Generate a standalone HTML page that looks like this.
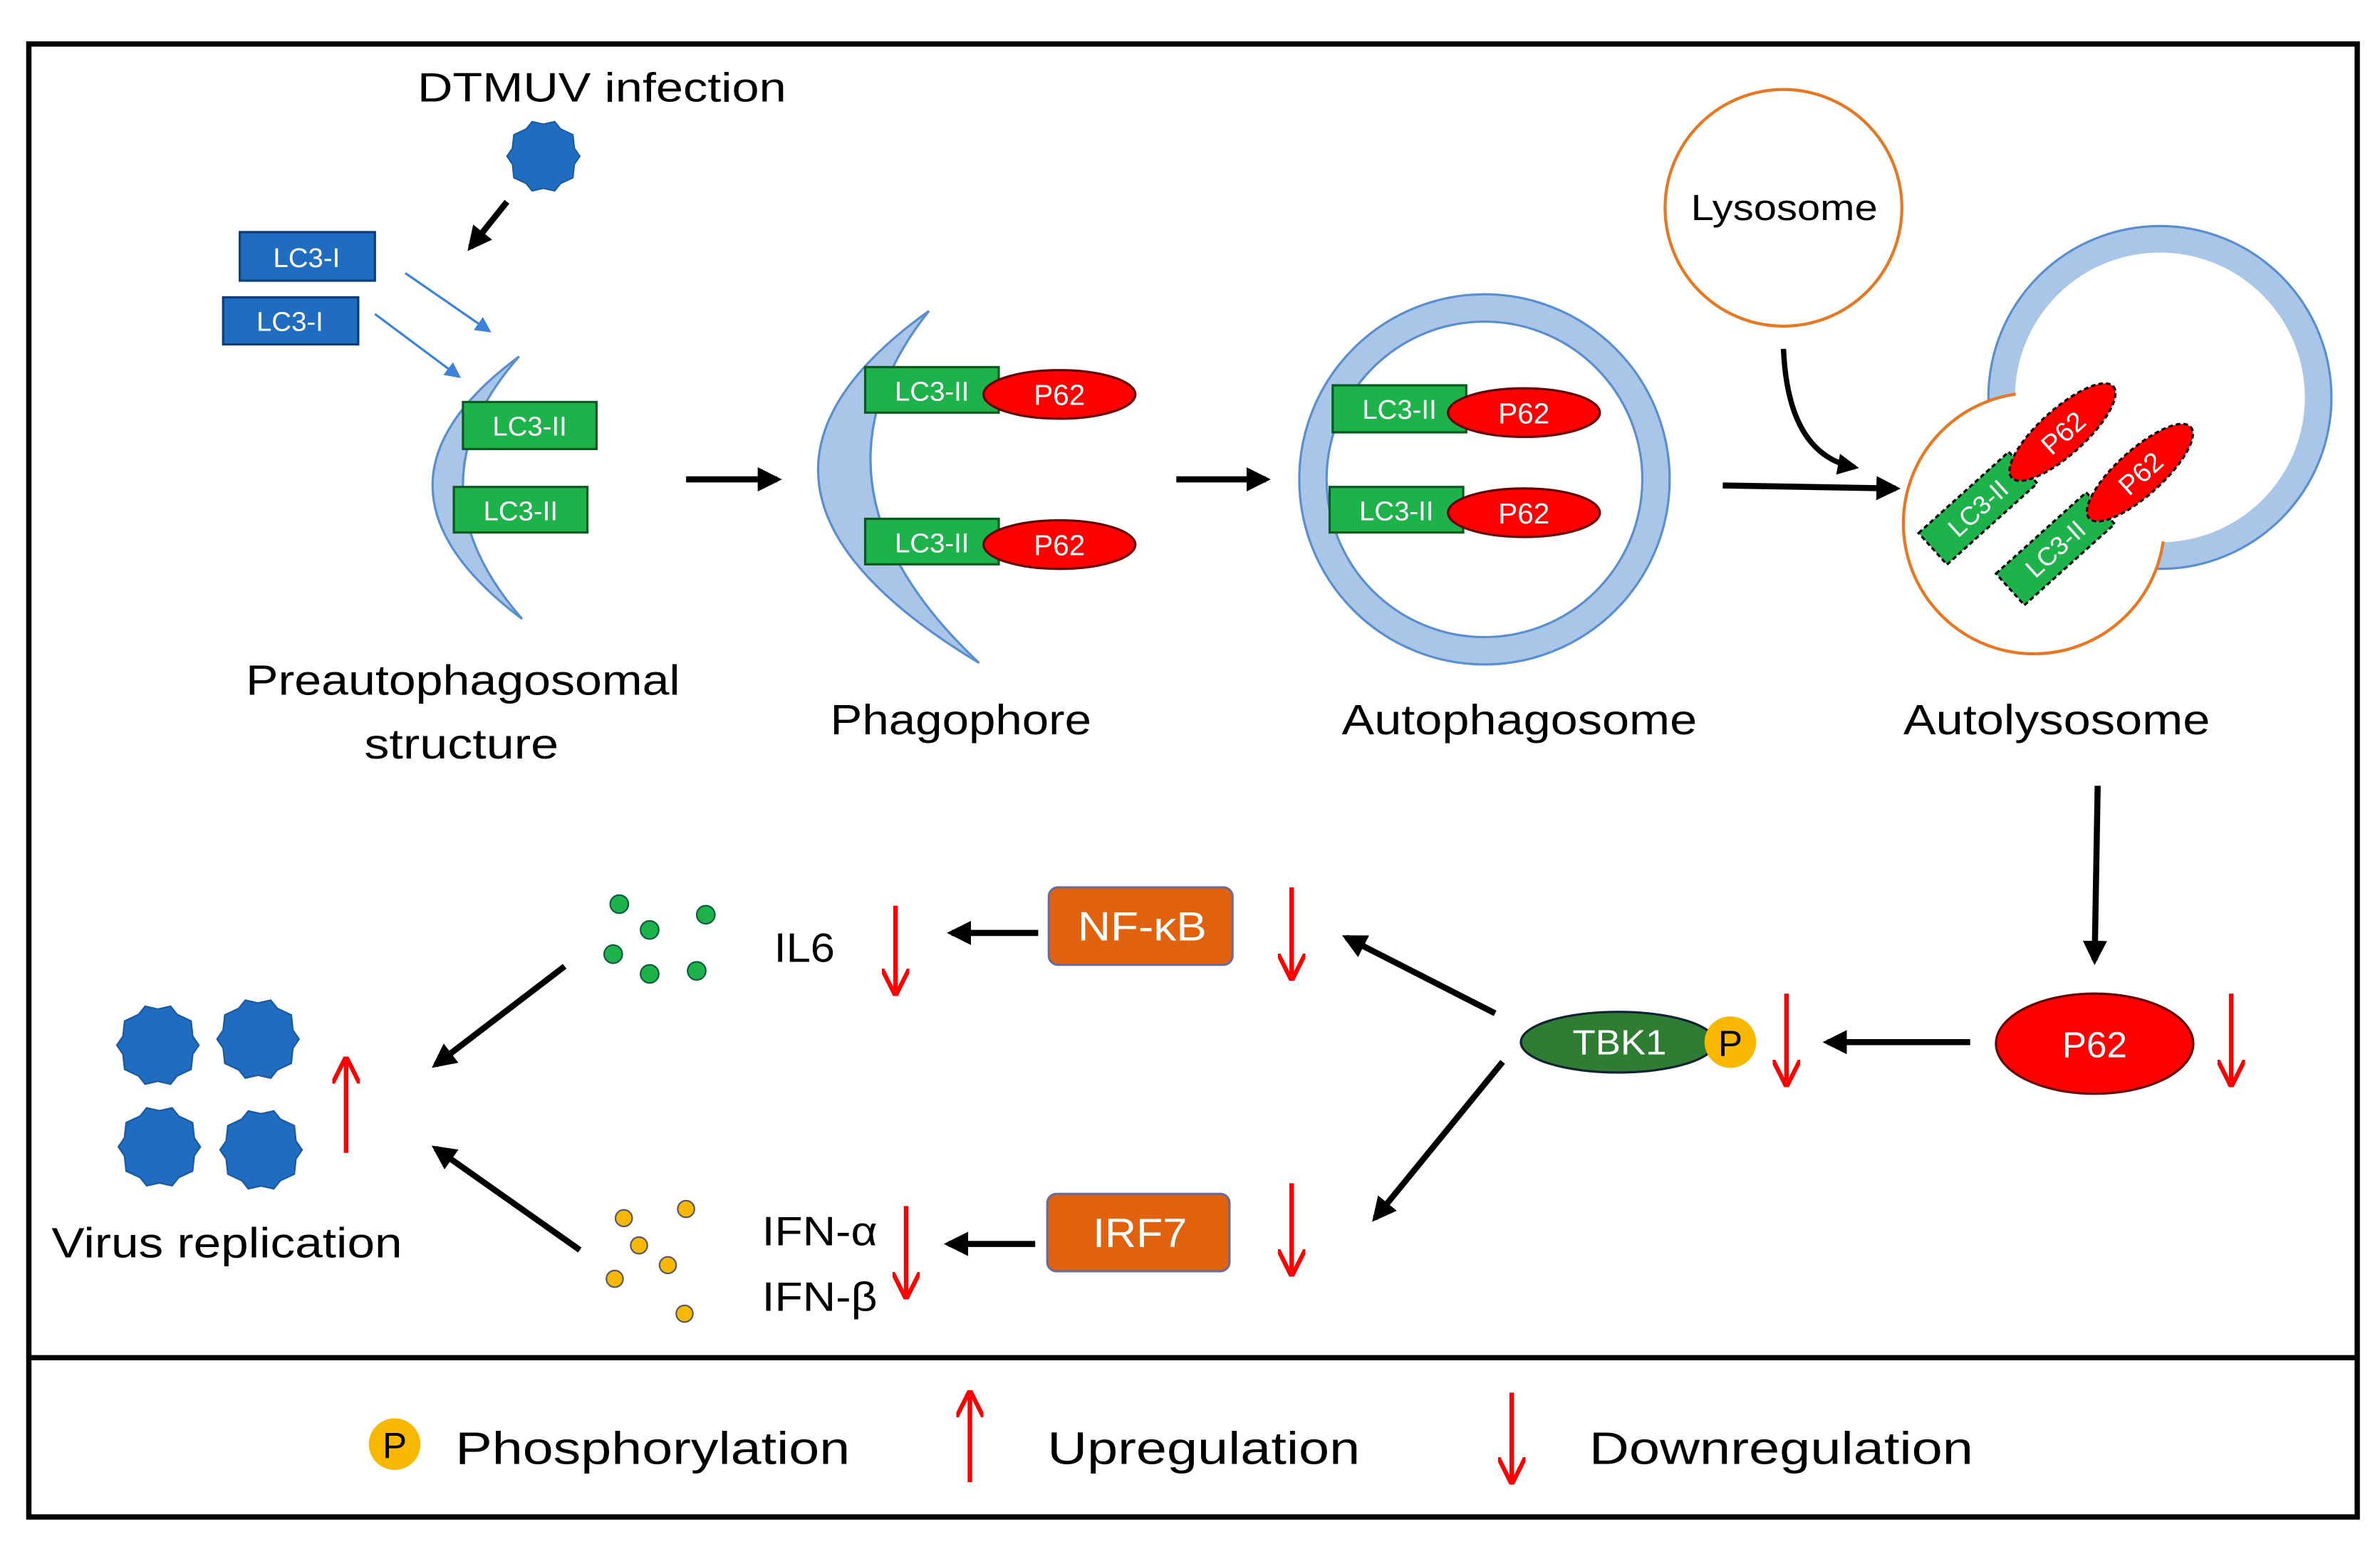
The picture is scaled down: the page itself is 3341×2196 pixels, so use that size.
<!DOCTYPE html>
<html><head><meta charset="utf-8"><style>
html,body{margin:0;padding:0;background:#fff}
svg{display:block}
text{font-family:"Liberation Sans","DejaVu Sans",sans-serif}
</style></head><body>
<svg width="3341" height="2196" viewBox="0 0 1568 1031" preserveAspectRatio="none" xmlns="http://www.w3.org/2000/svg">
<defs>
<marker id="ab" viewBox="0 0 10 10" refX="8" refY="5" markerWidth="4" markerHeight="4" orient="auto"><path d="M0,0 L10,5 L0,10 z" fill="#000"/></marker>
<marker id="ar" viewBox="0 0 10 10" refX="8" refY="5" markerWidth="6" markerHeight="6" orient="auto"><path d="M0,0 L10,5 L0,10" fill="none" stroke="#f00" stroke-width="1.6"/></marker>
<marker id="abl" viewBox="0 0 10 10" refX="8" refY="5" markerWidth="7" markerHeight="7" orient="auto"><path d="M0,0 L10,5 L0,10 z" fill="#3b82d8"/></marker>
<polygon id="star" points="1,0 .85,.22 .81,.59 .47,.75 .31,.95 0,.88 -.31,.95 -.47,.75 -.81,.59 -.85,.22 -1,0 -.85,-.22 -.81,-.59 -.47,-.75 -.31,-.95 0,-.88 .31,-.95 .47,-.75 .81,-.59 .85,-.22" fill="#1f6cc0" stroke="#1a5aa0" stroke-width=".04"/>
</defs>
<rect x="0" y="0" width="1568" height="1031" fill="#fff"/>
<rect x="19" y="29" width="1534" height="971" fill="none" stroke="#000" stroke-width="3.5"/>
<line x1="19" y1="895" x2="1553" y2="895" stroke="#000" stroke-width="3.5"/>

<text x="275" y="67" font-size="27" textLength="243" lengthAdjust="spacingAndGlyphs">DTMUV infection</text>
<use href="#star" transform="translate(358,103) scale(24)"/>
<line x1="334" y1="133" x2="310" y2="163" stroke="#000" stroke-width="4" marker-end="url(#ab)"/>

<rect x="158" y="153" width="89" height="32" fill="#1f6cc0" stroke="#0d3d7a" stroke-width="1.5"/>
<text x="202" y="176" font-size="18" fill="#fff" text-anchor="middle">LC3-I</text>
<rect x="147" y="196" width="89" height="31" fill="#1f6cc0" stroke="#0d3d7a" stroke-width="1.5"/>
<text x="191" y="218" font-size="18" fill="#fff" text-anchor="middle">LC3-I</text>
<line x1="267" y1="180" x2="322" y2="218" stroke="#3b82d8" stroke-width="1.5" marker-end="url(#abl)"/>
<line x1="247" y1="207" x2="302" y2="248" stroke="#3b82d8" stroke-width="1.5" marker-end="url(#abl)"/>

<path d="M342,235 Q227,320 344,408 Q267,320 342,235 z" fill="#a9c5e8" stroke="#5a8fcf" stroke-width="1.5"/>
<rect x="305" y="265" width="88" height="31" fill="#1db34a" stroke="#0a5a20" stroke-width="1.5"/>
<text x="349" y="287" font-size="18" fill="#fff" text-anchor="middle">LC3-II</text>
<rect x="299" y="321" width="88" height="30" fill="#1db34a" stroke="#0a5a20" stroke-width="1.5"/>
<text x="343" y="343" font-size="18" fill="#fff" text-anchor="middle">LC3-II</text>
<text x="162" y="458" font-size="28" textLength="286" lengthAdjust="spacingAndGlyphs">Preautophagosomal</text>
<text x="240" y="500" font-size="28" textLength="128" lengthAdjust="spacingAndGlyphs">structure</text>

<line x1="452" y1="316" x2="512" y2="316" stroke="#000" stroke-width="4" marker-end="url(#ab)"/>

<path d="M612,205 Q451,320 645,437 Q521,320 612,205 z" fill="#a9c5e8" stroke="#5a8fcf" stroke-width="1.5"/>
<rect x="570" y="242" width="88" height="30" fill="#1db34a" stroke="#0a5a20" stroke-width="1.5"/>
<text x="614" y="264" font-size="18" fill="#fff" text-anchor="middle">LC3-II</text>
<ellipse cx="698" cy="260" rx="50" ry="16" fill="#f00" stroke="#600" stroke-width="1.5"/>
<text x="698" y="267" font-size="19" fill="#fff" text-anchor="middle">P62</text>
<rect x="570" y="342" width="88" height="30" fill="#1db34a" stroke="#0a5a20" stroke-width="1.5"/>
<text x="614" y="364" font-size="18" fill="#fff" text-anchor="middle">LC3-II</text>
<ellipse cx="698" cy="359" rx="50" ry="16" fill="#f00" stroke="#600" stroke-width="1.5"/>
<text x="698" y="366" font-size="19" fill="#fff" text-anchor="middle">P62</text>
<text x="547" y="484" font-size="28" textLength="172" lengthAdjust="spacingAndGlyphs">Phagophore</text>

<line x1="775" y1="316" x2="834" y2="316" stroke="#000" stroke-width="4" marker-end="url(#ab)"/>

<circle cx="978" cy="316" r="113" fill="#fff" stroke="#a9c5e8" stroke-width="17"/>
<circle cx="978" cy="316" r="122" fill="none" stroke="#5a8fcf" stroke-width="1.5"/>
<circle cx="978" cy="316" r="104" fill="none" stroke="#5a8fcf" stroke-width="1.5"/>
<rect x="878" y="254" width="88" height="31" fill="#1db34a" stroke="#0a5a20" stroke-width="1.5"/>
<text x="922" y="276" font-size="18" fill="#fff" text-anchor="middle">LC3-II</text>
<ellipse cx="1004" cy="272" rx="50" ry="16" fill="#f00" stroke="#600" stroke-width="1.5"/>
<text x="1004" y="279" font-size="19" fill="#fff" text-anchor="middle">P62</text>
<rect x="876" y="321" width="88" height="30" fill="#1db34a" stroke="#0a5a20" stroke-width="1.5"/>
<text x="920" y="343" font-size="18" fill="#fff" text-anchor="middle">LC3-II</text>
<ellipse cx="1004" cy="338" rx="50" ry="16" fill="#f00" stroke="#600" stroke-width="1.5"/>
<text x="1004" y="345" font-size="19" fill="#fff" text-anchor="middle">P62</text>
<text x="884" y="484" font-size="28" textLength="234" lengthAdjust="spacingAndGlyphs">Autophagosome</text>

<circle cx="1175" cy="137" r="78" fill="#fff" stroke="#e87722" stroke-width="2"/>
<text x="1114" y="145" font-size="24" textLength="123" lengthAdjust="spacingAndGlyphs">Lysosome</text>
<path d="M1175,230 Q1178,300 1222,308" fill="none" stroke="#000" stroke-width="3.5" marker-end="url(#ab)"/>
<line x1="1135" y1="320" x2="1249" y2="322" stroke="#000" stroke-width="4" marker-end="url(#ab)"/>

<circle cx="1423" cy="262" r="104" fill="#fff" stroke="#a9c5e8" stroke-width="17"/>
<circle cx="1423" cy="262" r="113" fill="none" stroke="#5a8fcf" stroke-width="1.5"/>
<circle cx="1340" cy="345" r="86" fill="#fff" stroke="#e87722" stroke-width="2"/>
<circle cx="1423" cy="262" r="95" fill="#fff"/>
<g transform="translate(1330,335) rotate(-42)">
<rect x="-60" y="-32" width="80" height="28" fill="#1db34a" stroke="#000" stroke-dasharray="3,2" stroke-width="1.5"/>
<text x="-20" y="-12" font-size="17" fill="#fff" text-anchor="middle">LC3-II</text>
<ellipse cx="55" cy="-18" rx="45" ry="15" fill="#f00" stroke="#000" stroke-dasharray="3,2" stroke-width="1.5"/>
<text x="55" y="-11" font-size="18" fill="#fff" text-anchor="middle">P62</text>
<rect x="-40" y="22" width="80" height="28" fill="#1db34a" stroke="#000" stroke-dasharray="3,2" stroke-width="1.5"/>
<text x="0" y="42" font-size="17" fill="#fff" text-anchor="middle">LC3-II</text>
<ellipse cx="75" cy="36" rx="45" ry="15" fill="#f00" stroke="#000" stroke-dasharray="3,2" stroke-width="1.5"/>
<text x="75" y="43" font-size="18" fill="#fff" text-anchor="middle">P62</text>
</g>
<text x="1254" y="484" font-size="28" textLength="202" lengthAdjust="spacingAndGlyphs">Autolysosome</text>

<line x1="1382" y1="518" x2="1380" y2="633" stroke="#000" stroke-width="4" marker-end="url(#ab)"/>
<ellipse cx="1380" cy="688" rx="65" ry="33" fill="#f00" stroke="#600" stroke-width="1.5"/>
<text x="1380" y="697" font-size="24" fill="#fff" text-anchor="middle">P62</text>
<line x1="1470" y1="655" x2="1470" y2="713" stroke="#f00" stroke-width="3" marker-end="url(#ar)"/>
<line x1="1298" y1="687" x2="1204" y2="687" stroke="#000" stroke-width="4" marker-end="url(#ab)"/>
<line x1="1177" y1="655" x2="1177" y2="713" stroke="#f00" stroke-width="3" marker-end="url(#ar)"/>

<ellipse cx="1066" cy="687" rx="64" ry="20" fill="#2e7d32" stroke="#123" stroke-width="1.5"/>
<text x="1036" y="695" font-size="23" fill="#fff" textLength="62" lengthAdjust="spacingAndGlyphs">TBK1</text>
<circle cx="1140" cy="687" r="17" fill="#f8b800"/>
<text x="1140" y="696" font-size="24" text-anchor="middle">P</text>

<line x1="985" y1="668" x2="887" y2="618" stroke="#000" stroke-width="4" marker-end="url(#ab)"/>
<line x1="990" y1="700" x2="906" y2="803" stroke="#000" stroke-width="4" marker-end="url(#ab)"/>

<rect x="691" y="585" width="121" height="51" rx="6" fill="#e0620e" stroke="#6b6b9a" stroke-width="1.5"/>
<text x="710" y="620" font-size="27" fill="#fff" textLength="85" lengthAdjust="spacingAndGlyphs">NF-κB</text>
<line x1="851" y1="585" x2="851" y2="643" stroke="#f00" stroke-width="3" marker-end="url(#ar)"/>
<line x1="684" y1="615" x2="627" y2="615" stroke="#000" stroke-width="4" marker-end="url(#ab)"/>
<text x="510" y="634" font-size="27" textLength="40" lengthAdjust="spacingAndGlyphs">IL6</text>
<line x1="590" y1="597" x2="590" y2="653" stroke="#f00" stroke-width="3" marker-end="url(#ar)"/>
<g fill="#1db34a" stroke="#0a5a40" stroke-width="1">
<circle cx="408" cy="596" r="6"/><circle cx="465" cy="603" r="6"/><circle cx="428" cy="613" r="6"/>
<circle cx="404" cy="629" r="6"/><circle cx="428" cy="642" r="6"/><circle cx="459" cy="640" r="6"/>
</g>
<line x1="372" y1="637" x2="287" y2="702" stroke="#000" stroke-width="4" marker-end="url(#ab)"/>

<rect x="690" y="787" width="120" height="51" rx="6" fill="#e0620e" stroke="#6b6b9a" stroke-width="1.5"/>
<text x="720" y="822" font-size="27" fill="#fff" textLength="62" lengthAdjust="spacingAndGlyphs">IRF7</text>
<line x1="851" y1="780" x2="851" y2="838" stroke="#f00" stroke-width="3" marker-end="url(#ar)"/>
<line x1="682" y1="820" x2="625" y2="820" stroke="#000" stroke-width="4" marker-end="url(#ab)"/>
<text x="502" y="821" font-size="27" textLength="76" lengthAdjust="spacingAndGlyphs">IFN-α</text>
<text x="502" y="864" font-size="27" textLength="76" lengthAdjust="spacingAndGlyphs">IFN-β</text>
<line x1="597" y1="795" x2="597" y2="853" stroke="#f00" stroke-width="3" marker-end="url(#ar)"/>
<g fill="#f8b800" stroke="#556" stroke-width="1">
<circle cx="411" cy="803" r="5.5"/><circle cx="452" cy="797" r="5.5"/><circle cx="421" cy="821" r="5.5"/>
<circle cx="440" cy="834" r="5.5"/><circle cx="405" cy="843" r="5.5"/><circle cx="451" cy="866" r="5.5"/>
</g>
<line x1="382" y1="824" x2="287" y2="757" stroke="#000" stroke-width="4" marker-end="url(#ab)"/>

<use href="#star" transform="translate(104,689) scale(27)"/>
<use href="#star" transform="translate(170,685) scale(27)"/>
<use href="#star" transform="translate(105,756) scale(27)"/>
<use href="#star" transform="translate(172,758) scale(27)"/>
<line x1="228" y1="760" x2="228" y2="700" stroke="#f00" stroke-width="3" marker-end="url(#ar)"/>
<text x="34" y="829" font-size="28" textLength="231" lengthAdjust="spacingAndGlyphs">Virus replication</text>

<circle cx="260" cy="952" r="17" fill="#f8b800"/>
<text x="260" y="961" font-size="24" text-anchor="middle">P</text>
<text x="300" y="965" font-size="30" textLength="260" lengthAdjust="spacingAndGlyphs">Phosphorylation</text>
<line x1="639" y1="977" x2="639" y2="920" stroke="#f00" stroke-width="3" marker-end="url(#ar)"/>
<text x="690" y="965" font-size="30" textLength="206" lengthAdjust="spacingAndGlyphs">Upregulation</text>
<line x1="996" y1="918" x2="996" y2="975" stroke="#f00" stroke-width="3" marker-end="url(#ar)"/>
<text x="1047" y="965" font-size="30" textLength="253" lengthAdjust="spacingAndGlyphs">Downregulation</text>
</svg>
</body></html>
